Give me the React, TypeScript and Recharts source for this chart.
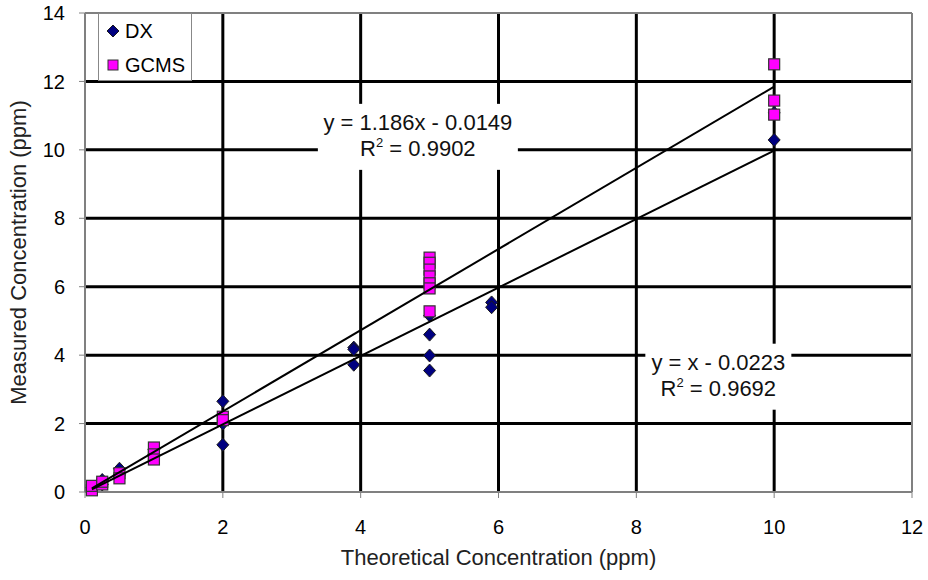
import React from "react";
import { ScatterChart, Scatter, XAxis, YAxis, ReferenceLine, ReferenceDot, Legend } from "recharts";

const FONT = '"Liberation Sans", Arial, sans-serif';

// DX measurements (theoretical ppm, measured ppm)
const dxTheoretical = [0.1, 0.25, 0.25, 0.5, 0.5, 1, 1, 2, 2, 2, 3.9, 3.9, 3.9, 5, 5, 5, 5, 5.9, 5.9, 10, 10];
const dxMeasured = [0.12, 0.35, 0.22, 0.68, 0.5, 1.1, 1.25, 2.65, 1.38, 2.0, 4.22, 4.17, 3.72, 5.16, 4.6, 3.99, 3.55, 5.54, 5.4, 11.08, 10.29];

// GCMS measurements
const gcmsTheoretical = [0.1, 0.1, 0.25, 0.25, 0.5, 0.5, 1, 1, 1, 2, 2, 5, 5, 5, 5, 5, 5, 5, 10, 10, 10];
const gcmsMeasured = [0.05, 0.18, 0.22, 0.3, 0.55, 0.4, 1.3, 1.1, 0.95, 2.2, 2.1, 6.85, 6.7, 6.5, 6.3, 6.1, 5.95, 5.28, 12.5, 11.44, 11.03];

// linear trendlines (Excel)
const trendRange = [0.1, 10];
const gcmsFit = { slope: 1.186, intercept: -0.0149, r2: "0.9902", label: "y = 1.186x - 0.0149" };
const dxFit = { slope: 1, intercept: -0.0223, r2: "0.9692", label: "y = x - 0.0223" };

const xTicks = [0, 2, 4, 6, 8, 10, 12];
const yTicks = [0, 2, 4, 6, 8, 10, 12, 14];
const xGrid = [2, 4, 6, 8, 10];
const yGrid = [2, 4, 6, 8, 10, 12];

const dxData = dxTheoretical.map((x, i) => ({ x, y: dxMeasured[i] }));
const gcmsData = gcmsTheoretical.map((x, i) => ({ x, y: gcmsMeasured[i] }));
const trend = (f: { slope: number; intercept: number }) =>
  trendRange.map(x => ({ x, y: f.slope * x + f.intercept }));

const Diamond = (props: any) => {
  const { cx, cy } = props;
  const r = 6.5;
  return (
    <polygon
      points={`${cx},${cy - r} ${cx + r - 0.5},${cy} ${cx},${cy + r} ${cx - r + 0.5},${cy}`}
      fill="#000080"
      stroke="#1a1a1a"
      strokeWidth={1}
    />
  );
};

const Square = (props: any) => {
  const { cx, cy } = props;
  return <rect x={cx - 5.5} y={cy - 5.5} width={11} height={11} fill="#ff00ff" stroke="#333" strokeWidth={1.2} />;
};

const NoShape = () => <g />;

const EqBox = (props: any) => {
  const { cx, cy, eq, r2, w } = props;
  const h = 66;
  return (
    <g>
      <rect x={cx - w / 2} y={cy - h / 2} width={w} height={h} fill="#fff" />
      <text x={cx} y={cy - 7} textAnchor="middle" fontSize={22} fontFamily={FONT} fill="#111">
        {eq}
      </text>
      <text x={cx} y={cy + 19} textAnchor="middle" fontSize={22} fontFamily={FONT} fill="#111">
        R<tspan fontSize={13} dy={-9}>2</tspan>
        <tspan dy={9}> = {r2}</tspan>
      </text>
    </g>
  );
};

const LegendBox = () => (
  <div
    style={{
      border: "1px solid #888",
      background: "#fff",
      width: 94,
      height: 68,
      fontFamily: FONT,
      fontSize: 20,
      color: "#000",
      boxSizing: "border-box",
    }}
  >
    <div style={{ display: "flex", alignItems: "center", height: 34, paddingLeft: 6 }}>
      <svg width={16} height={16} style={{ marginRight: 4 }}>
        <polygon points="8,2 14,8 8,14 2,8" fill="#000080" stroke="#1a1a1a" />
      </svg>
      DX
    </div>
    <div style={{ display: "flex", alignItems: "center", height: 34, paddingLeft: 6 }}>
      <svg width={16} height={16} style={{ marginRight: 4 }}>
        <rect x={3} y={3} width={10} height={10} fill="#ff00ff" stroke="#333" />
      </svg>
      GCMS
    </div>
  </div>
);

export default function App() {
  return (
    <div style={{ position: "absolute", left: 0, top: 0, background: "#fff" }}>
      <ScatterChart width={928} height={580} margin={{ top: 13, right: 16, bottom: 0, left: 0 }}>
        <XAxis
          type="number"
          dataKey="x"
          domain={[0, 12]}
          ticks={xTicks}
          interval={0}
          tickSize={6}
          tickMargin={22}
          height={88}
          axisLine={{ stroke: "#808080", strokeWidth: 2 }}
          tickLine={{ stroke: "#808080" }}
          tick={{ fill: "#000", fontSize: 20, fontFamily: FONT }}
          label={{
            value: "Theoretical Concentration (ppm)",
            position: "insideBottom",
            offset: 15,
            fill: "#222",
            fontSize: 22,
            fontFamily: FONT,
          }}
        />
        <YAxis
          type="number"
          dataKey="y"
          domain={[0, 14]}
          ticks={yTicks}
          interval={0}
          tickSize={6}
          tickMargin={14}
          width={85}
          axisLine={{ stroke: "#808080", strokeWidth: 2 }}
          tickLine={{ stroke: "#808080" }}
          tick={{ fill: "#000", fontSize: 20, fontFamily: FONT }}
          label={{
            value: "Measured Concentration (ppm)",
            angle: -90,
            position: "insideLeft",
            offset: 18,
            style: { textAnchor: "middle" },
            fill: "#222",
            fontSize: 22,
            fontFamily: FONT,
          }}
        />
        {xGrid.map(v => (
          <ReferenceLine key={`gx${v}`} x={v} stroke="#000" strokeWidth={3} />
        ))}
        {yGrid.map(v => (
          <ReferenceLine key={`gy${v}`} y={v} stroke="#000" strokeWidth={3} />
        ))}
        <ReferenceLine y={14} stroke="#808080" strokeWidth={2} />
        <ReferenceLine x={12} stroke="#808080" strokeWidth={2} />
        <ReferenceDot
          x={4.83}
          y={10.38}
          r={0}
          zIndex={700}
          shape={(p: any) => <EqBox {...p} eq={gcmsFit.label} r2={gcmsFit.r2} w={200} />}
        />
        <ReferenceDot
          x={9.19}
          y={3.37}
          r={0}
          zIndex={700}
          shape={(p: any) => <EqBox {...p} eq={dxFit.label} r2={dxFit.r2} w={146} />}
        />
        <Scatter name="DX" data={dxData} shape={<Diamond />} isAnimationActive={false} />
        <Scatter name="GCMS" data={gcmsData} shape={<Square />} isAnimationActive={false} />
        <Scatter
          data={trend(gcmsFit)}
          shape={<NoShape />}
          line={{ stroke: "#000", strokeWidth: 2 }}
          legendType="none"
          isAnimationActive={false}
        />
        <Scatter
          data={trend(dxFit)}
          shape={<NoShape />}
          line={{ stroke: "#000", strokeWidth: 2 }}
          legendType="none"
          isAnimationActive={false}
        />
        <Legend
          layout="horizontal"
          verticalAlign="middle"
          align="center"
          wrapperStyle={{ top: 13, left: 98, width: 94, height: 68 }}
          content={() => <LegendBox />}
        />
      </ScatterChart>
    </div>
  );
}
